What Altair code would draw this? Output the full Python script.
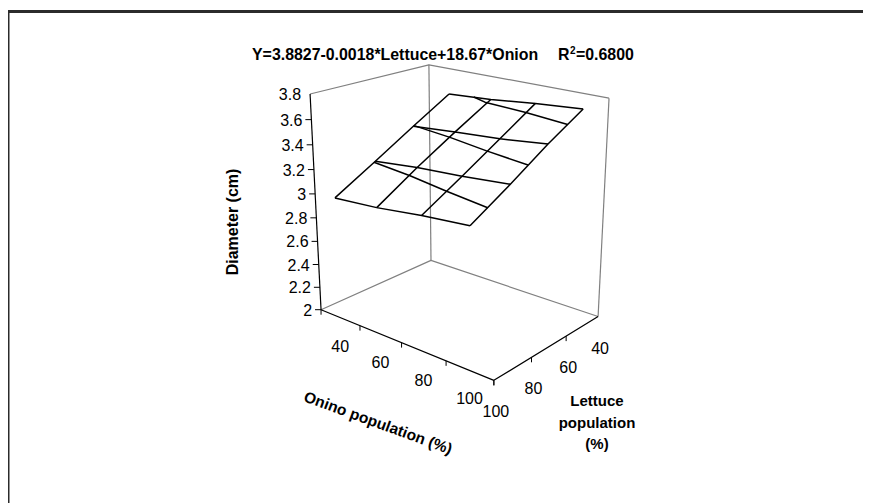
import numpy as np
import pandas as pd
import altair as alt

onion = [40, 60, 80, 100]
lettuce = [100, 80, 60, 40]
diam_l100 = [3.018, 3.044, 3.090, 3.122]
diam_l80 = [3.205, 3.246, 3.271, 3.307]
diam_l60 = [3.397, 3.431, 3.459, 3.503]
diam_l40 = [3.582, 3.608, 3.649, 3.679]
# band boundaries of the surface, as (onion, lettuce) crossings
contour_32_onion = [40, 60, 80, 100]
contour_32_lettuce = [80.7, 83.6, 87.8, 91.4]
contour_34_onion = [40, 60, 80, 100]
contour_34_lettuce = [59.6, 62.8, 67.2, 70.8]
contour_36_onion = [52, 60, 80, 100]
contour_36_lettuce = [40, 43.4, 45.5, 49]
diam_ticks = [3.8, 3.6, 3.4, 3.2, 3.0, 2.8, 2.6, 2.4, 2.2, 2.0]
diam_labels = ["3.8", "3.6", "3.4", "3.2", "3", "2.8", "2.6", "2.4", "2.2", "2"]
onion_edges = [30, 50, 70, 90, 110]

# box limits of the 3-D chart
O0, O1, L0, L1, D0, D1 = 30, 110, 40, 100, 2.0, 3.8

# perspective camera of the box, solved from where its corners sit on the page
anchors = [((0, 1, 0), (321, 310)), ((1, 1, 0), (494, 380)), ((0, 0, 0), (431, 260)),
           ((1, 0, 0), (598, 317)), ((0, 1, 1), (310, 94)), ((0, 0, 1), (429, 65)),
           ((1, 0, 1), (609, 98))]
rows = []
for (u, v, w), (px, py) in anchors:
    h = [u, v, w, 1]
    rows.append(h + [0, 0, 0, 0] + [-px * t for t in h])
    rows.append([0, 0, 0, 0] + h + [-py * t for t in h])
CAM = np.linalg.svd(np.array(rows, float))[2][-1].reshape(3, 4)


def project(o, l, d):
    p = CAM @ np.array([(o - O0) / (O1 - O0), (l - L0) / (L1 - L0), (d - D0) / (D1 - D0), 1.0])
    return p[0] / p[2], p[1] / p[2]


X = lambda f: alt.X(f, type="quantitative", axis=None,
                    scale=alt.Scale(domain=[8, 863], nice=False, zero=False))
Y = lambda f: alt.Y(f, type="quantitative", axis=None,
                    scale=alt.Scale(domain=[503, 8], nice=False, zero=False))


def path_rows(name, pts):
    out = []
    for i, (o, l, d) in enumerate(pts):
        sx, sy = project(o, l, d)
        out.append({"g": name, "i": i, "sx": sx, "sy": sy})
    return out


def lines(records, color, width):
    return alt.Chart(pd.DataFrame(records)).mark_line(
        color=color, strokeWidth=width, interpolate="linear", strokeJoin="round"
    ).encode(x=X("sx"), y=Y("sy"), detail="g:N", order="i:Q")


grid = {100: diam_l100, 80: diam_l80, 60: diam_l60, 40: diam_l40}

surface = []
for l, ds in grid.items():
    surface += path_rows(f"row{l}", [(o, l, d) for o, d in zip(onion, ds)])
for j, o in enumerate(onion):
    surface += path_rows(f"col{o}", [(o, l, grid[l][j]) for l in lettuce])
for level, os_, ls_ in [(3.2, contour_32_onion, contour_32_lettuce),
                        (3.4, contour_34_onion, contour_34_lettuce),
                        (3.6, contour_36_onion, contour_36_lettuce)]:
    surface += path_rows(f"band{level}", [(o, l, level) for o, l in zip(os_, ls_)])

walls = []
walls += path_rows("topback", [(O0, L1, D1), (O0, L0, D1), (O1, L0, D1)])
walls += path_rows("backedge", [(O0, L0, D0), (O0, L0, D1)])
walls += path_rows("rightedge", [(O1, L0, D0), (O1, L0, D1)])
walls += path_rows("floor", [(O0, L1, D0), (O0, L0, D0), (O1, L0, D0)])

axes = []
axes += path_rows("zaxis", [(O0, L1, D1), (O0, L1, D0)])
axes += path_rows("floorfront", [(O0, L1, D0), (O1, L1, D0), (O1, L0, D0)])

ticks = []
for d in diam_ticks[1:]:
    sx, sy = project(O0, L1, d)
    ticks.append({"sx": sx, "sy": sy, "ex": sx - 6, "ey": sy})
for o in onion_edges:
    sx, sy = project(o, L1, D0)
    ticks.append({"sx": sx, "sy": sy, "ex": sx, "ey": sy + 5})
for l in lettuce[:-1]:
    sx, sy = project(O1, l, D0)
    ticks.append({"sx": sx, "sy": sy, "ex": sx, "ey": sy + 5})
tick_layer = alt.Chart(pd.DataFrame(ticks)).mark_rule(color="black", strokeWidth=1).encode(
    x=X("sx"), y=Y("sy"), x2="ex:Q", y2="ey:Q")

FONT = "Liberation Sans"


def labels(records, **kw):
    return alt.Chart(pd.DataFrame(records)).mark_text(font=FONT, color="black", **kw).encode(
        x=X("sx"), y=Y("sy"), text="t:N")


def at(t, p):
    return {"t": t, "sx": p[0], "sy": p[1]}


z_labels = labels([at(t, project(O0, L1, d)) for t, d in zip(diam_labels, diam_ticks)],
                  fontSize=16, align="right", baseline="middle", dx=-9, dy=1)
o_labels = labels([at(str(o), project(o, L1, D0)) for o in onion],
                  fontSize=16, align="center", baseline="middle", dx=0, dy=29)
l_labels = labels([at(str(l), project(O1, l, D0)) for l in lettuce],
                  fontSize=16, align="center", baseline="middle", dx=2, dy=32)

eq = labels([at("Y=3.8827-0.0018*Lettuce+18.67*Onion", (252, 60))],
            fontSize=15.9, fontWeight="bold", align="left", baseline="alphabetic")
r1 = labels([at("R", (558, 60))], fontSize=15.9, fontWeight="bold", align="left", baseline="alphabetic")
r2 = labels([at("2", (570, 54))], fontSize=10, fontWeight="bold", align="left", baseline="alphabetic")
r3 = labels([at("=0.6800", (576, 60))], fontSize=15.9, fontWeight="bold", align="left", baseline="alphabetic")
z_title = labels([at("Diameter (cm)", (233, 222))], fontSize=16, fontWeight="bold",
                 align="center", baseline="middle", angle=270)
o_title = labels([at("Onino population (%)", (378, 423))], fontSize=15.5, fontWeight="bold",
                 align="center", baseline="middle", angle=20)
l_title = labels([at("Lettuce", (597, 401)), at("population", (597, 423)), at("(%)", (597, 444))],
                 fontSize=15, fontWeight="bold", align="center", baseline="middle")

frame_top = alt.Chart(pd.DataFrame({"a": [0]})).mark_rule(color="#2b2b2b", strokeWidth=3).encode(
    x=alt.value(0), x2=alt.value(855), y=alt.value(3.5))
frame_left = alt.Chart(pd.DataFrame({"a": [0]})).mark_rule(color="#2b2b2b", strokeWidth=3).encode(
    x=alt.value(0), y=alt.value(2), y2=alt.value(495))

chart = alt.layer(
    frame_top, frame_left,
    lines(walls, "#808080", 1.2),
    lines(surface, "black", 1.5),
    lines(axes, "black", 1.2),
    tick_layer,
    z_labels, o_labels, l_labels,
    eq, r1, r2, r3, z_title, o_title, l_title,
).properties(
    width=855, height=495, padding=0,
    autosize=alt.AutoSizeParams(type="none"),
).configure_view(stroke=None)

chart.save("out.html", embed_options={"renderer": "svg", "actions": False})
